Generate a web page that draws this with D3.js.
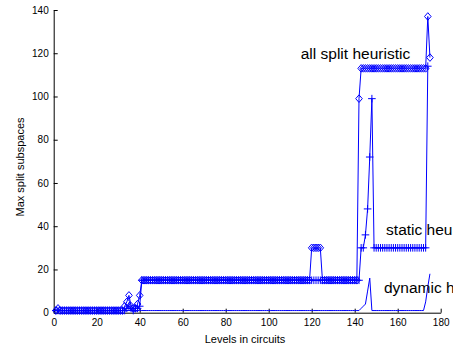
<!DOCTYPE html>
<html>
<head>
<meta charset="utf-8">
<script src="https://cdn.jsdelivr.net/npm/d3@7"></script>
<style>
  body { margin: 0; background: #fff; }
  svg { display: block; font-family: "Liberation Sans", Arial, sans-serif; }
</style>
</head>
<body>
<div id="chart"></div>
<script>
// Max split subspaces per circuit level (level = index + 1)
const allSplit = [
  1, 2, 1, 1, 1, 1, 1, 1, 1, 1, 1, 1, 1, 1, 1, 1, 1, 1, 1, 1, 1, 1, 1, 1, 1,
  1, 1, 1, 1, 1, 1, 1, 3, 5, 8, 3, 2, 2, 4, 8, 15, 15, 15, 15, 15, 15, 15, 15, 15, 15,
  15, 15, 15, 15, 15, 15, 15, 15, 15, 15, 15, 15, 15, 15, 15, 15, 15, 15, 15, 15, 15, 15, 15, 15, 15,
  15, 15, 15, 15, 15, 15, 15, 15, 15, 15, 15, 15, 15, 15, 15, 15, 15, 15, 15, 15, 15, 15, 15, 15, 15,
  15, 15, 15, 15, 15, 15, 15, 15, 15, 15, 15, 15, 15, 15, 15, 15, 15, 15, 15, 30, 30, 30, 30, 30, 15,
  15, 15, 15, 15, 15, 15, 15, 15, 15, 15, 15, 15, 15, 15, 15, 15, 99, 113, 113, 113, 113, 113, 113, 113, 113,
  113, 113, 113, 113, 113, 113, 113, 113, 113, 113, 113, 113, 113, 113, 113, 113, 113, 113, 113, 113, 113, 113, 113, 137, 118
];

const staticH = [
  1, 1, 1, 1, 1, 1, 1, 1, 1, 1, 1, 1, 1, 1, 1, 1, 1, 1, 1, 1, 1, 1, 1, 1, 1,
  1, 1, 1, 1, 1, 1, 1, 1, 2, 3, 2, 1, 2, 2, 3, 15, 15, 15, 15, 15, 15, 15, 15, 15, 15,
  15, 15, 15, 15, 15, 15, 15, 15, 15, 15, 15, 15, 15, 15, 15, 15, 15, 15, 15, 15, 15, 15, 15, 15, 15,
  15, 15, 15, 15, 15, 15, 15, 15, 15, 15, 15, 15, 15, 15, 15, 15, 15, 15, 15, 15, 15, 15, 15, 15, 15,
  15, 15, 15, 15, 15, 15, 15, 15, 15, 15, 15, 15, 15, 15, 15, 15, 15, 15, 15, 15, 15, 15, 15, 15, 15,
  15, 15, 15, 15, 15, 15, 15, 15, 15, 15, 15, 15, 15, 15, 15, 15, 15, 30, 30, 36, 48, 72, 99, 30, 30,
  30, 30, 30, 30, 30, 30, 30, 30, 30, 30, 30, 30, 30, 30, 30, 30, 30, 30, 30, 30, 30, 30, 30, 114
];

const dynamicH = [
  1, 1, 1, 1, 1, 1, 1, 1, 1, 1, 1, 1, 1, 1, 1, 1, 1, 1, 1, 1, 1, 1, 1, 1, 1,
  1, 1, 1, 1, 1, 1, 1, 1, 1, 1, 1, 1, 1, 1, 1, 1, 1, 1, 1, 1, 1, 1, 1, 1, 1,
  1, 1, 1, 1, 1, 1, 1, 1, 1, 1, 1, 1, 1, 1, 1, 1, 1, 1, 1, 1, 1, 1, 1, 1, 1,
  1, 1, 1, 1, 1, 1, 1, 1, 1, 1, 1, 1, 1, 1, 1, 1, 1, 1, 1, 1, 1, 1, 1, 1, 1,
  1, 1, 1, 1, 1, 1, 1, 1, 1, 1, 1, 1, 1, 1, 1, 1, 1, 1, 1, 1, 1, 1, 1, 1, 1,
  1, 1, 1, 1, 1, 1, 1, 1, 1, 1, 1, 1, 1, 1, 1, 1, 1, 2, 3, 4, 10, 16, 1, 1, 1,
  1, 1, 1, 1, 1, 1, 1, 1, 1, 1, 1, 1, 1, 1, 1, 1, 1, 1, 1, 1, 1, 1, 5, 12, 18
];

const xTicks = [0, 20, 40, 60, 80, 100, 120, 140, 160, 180];
const yTicks = [0, 20, 40, 60, 80, 100, 120, 140];
const seriesNames = ["all split heuristic", "static heuristic", "dynamic heuristic"];

const W = 453, H = 350;
const x = d3.scaleLinear().domain([0, 180]).range([53.7, 440.7]);
const y = d3.scaleLinear().domain([0, 140]).range([312.7, 10]);
const blue = "#0000ff";

const svg = d3.select("#chart").append("svg")
    .attr("width", W)
    .attr("height", H);

// axes, ticks pointing inward like matlab
const xAxis = d3.axisBottom(x).tickValues(xTicks).tickSizeInner(-4).tickSizeOuter(0).tickPadding(6);
const yAxis = d3.axisLeft(y).tickValues(yTicks).tickSizeInner(-4).tickSizeOuter(0).tickPadding(5);

const gx = svg.append("g")
    .attr("transform", `translate(0,${y(0)})`)
    .call(xAxis);
const gy = svg.append("g")
    .attr("transform", `translate(${x(0)},0)`)
    .call(yAxis);

[gx, gy].forEach(g => {
    g.selectAll("path, line").attr("stroke", "#000").attr("stroke-width", 1);
    g.selectAll("text").attr("fill", "#000").style("font-size", "10px");
});

svg.append("text")
    .attr("x", 245)
    .attr("y", 343)
    .attr("text-anchor", "middle")
    .style("font-size", "11px")
    .text("Levels in circuits");

svg.append("text")
    .attr("transform", "translate(24,167) rotate(-90)")
    .attr("text-anchor", "middle")
    .style("font-size", "11px")
    .text("Max split subspaces");

const line = d3.line()
    .x((d, i) => x(i + 1))
    .y(d => y(d));

const plot = svg.append("g");

function drawSeries(values, marker) {
    plot.append("path")
        .datum(values)
        .attr("fill", "none")
        .attr("stroke", blue)
        .attr("stroke-width", 1)
        .attr("d", line);

    if (!marker) return;
    plot.append("g").selectAll("path")
        .data(values)
        .join("path")
        .attr("transform", (d, i) => `translate(${x(i + 1)},${y(d)})`)
        .attr("d", marker)
        .attr("fill", "none")
        .attr("stroke", blue)
        .attr("stroke-width", 1);
}

const diamond = "M0,-3.8L3.3,0L0,3.8L-3.3,0Z";
const plus = "M-3.8,0H3.8M0,-3.8V3.8";

drawSeries(allSplit, diamond);
drawSeries(staticH, plus);
drawSeries(dynamicH, null);

// series labels placed in data coordinates, running off the right edge
const labelAt = [[114.9, 117.3], [154.6, 35.9], [153.6, 9.2]];
svg.append("g").selectAll("text")
    .data(seriesNames)
    .join("text")
    .attr("x", (d, i) => x(labelAt[i][0]))
    .attr("y", (d, i) => y(labelAt[i][1]))
    .attr("fill", "#000")
    .style("font-size", "15.5px")
    .text(d => d);
</script>
</body>
</html>
